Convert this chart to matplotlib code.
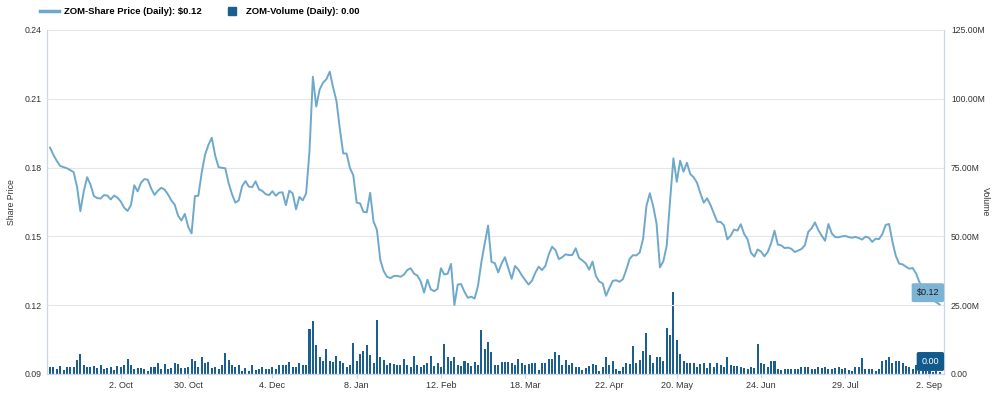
import matplotlib
matplotlib.use("Agg")
import matplotlib.pyplot as plt
from matplotlib.lines import Line2D
import numpy as np
import pandas as pd

plt.rcParams['font.family'] = ['Liberation Sans', 'DejaVu Sans']

# daily closes, ZOM
price = [
    .1887, .1855, .1829, .1807, .1802, .1797, .1789, .1780, .1717, .1610,
    .1696, .1758, .1726, .1676, .1667, .1665, .1680, .1678, .1661, .1678,
    .1669, .1652, .1625, .1611, .1636, .1723, .1696, .1734, .1750, .1747,
    .1709, .1681, .1699, .1712, .1704, .1683, .1657, .1638, .1590, .1569,
    .1598, .1542, .1513, .1676, .1677, .1777, .1856, .1899, .1930, .1853,
    .1802, .1799, .1797, .1732, .1684, .1647, .1657, .1719, .1741, .1717,
    .1715, .1740, .1705, .1698, .1684, .1680, .1697, .1677, .1691, .1692,
    .1636, .1699, .1688, .1618, .1672, .1657, .1687, .1873, .2196, .2066,
    .2140, .2170, .2185, .2218, .2150, .2090, .1969, .1862, .1861, .1798,
    .1766, .1647, .1644, .1607, .1605, .1690, .1565, .1529, .1398, .1349,
    .1324, .1318, .1327, .1328, .1324, .1333, .1353, .1361, .1338, .1329,
    .1304, .1255, .1311, .1269, .1261, .1271, .1361, .1334, .1337, .1380,
    .1201, .1290, .1292, .1258, .1232, .1237, .1229, .1284, .1387, .1469,
    .1547, .1389, .1383, .1343, .1382, .1409, .1361, .1315, .1371, .1355,
    .1330, .1310, .1290, .1306, .1341, .1368, .1353, .1371, .1421, .1455,
    .1440, .1401, .1409, .1422, .1418, .1419, .1448, .1406, .1395, .1382,
    .1355, .1390, .1327, .1303, .1295, .1241, .1275, .1306, .1309, .1302,
    .1313, .1354, .1402, .1418, .1417, .1430, .1489, .1633, .1688, .1632,
    .1555, .1365, .1391, .1458, .1654, .1840, .1738, .1830, .1782, .1821,
    .1772, .1758, .1734, .1688, .1647, .1666, .1637, .1600, .1564, .1563,
    .1548, .1487, .1503, .1530, .1525, .1553, .1510, .1488, .1429, .1412,
    .1443, .1434, .1413, .1432, .1470, .1525, .1464, .1461, .1449, .1451,
    .1446, .1432, .1438, .1445, .1461, .1519, .1535, .1561, .1528, .1503,
    .1481, .1554, .1513, .1497, .1496, .1500, .1502, .1497, .1494, .1498,
    .1493, .1486, .1499, .1494, .1476, .1490, .1488, .1510, .1550, .1554,
    .1477, .1415, .1381, .1378, .1368, .1359, .1362, .1339, .1301, .1270,
    .1250, .1234, .1224, .1213, .1203,
]

# daily volume, millions of shares
volume = [
    2.4, 2.4, 1.9, 3.0, 1.5, 2.4, 2.4, 2.4, 5.1, 7.3,
    3.1, 2.5, 2.4, 3.0, 2.2, 3.1, 1.7, 2.2, 2.7, 1.5,
    2.9, 2.4, 3.3, 5.3, 3.1, 1.7, 2.1, 2.1, 1.9, 1.2,
    2.4, 2.4, 3.9, 1.9, 3.6, 1.9, 2.1, 4.1, 3.6, 2.2,
    2.2, 2.4, 5.3, 4.8, 2.4, 6.1, 3.9, 4.4, 2.2, 2.4,
    1.7, 3.1, 7.5, 5.1, 3.4, 2.4, 3.4, 1.2, 2.1, 1.0,
    3.4, 1.5, 1.7, 2.4, 1.9, 1.9, 2.4, 1.7, 3.1, 3.4,
    3.1, 4.4, 2.4, 2.7, 3.9, 3.3, 3.1, 16.2, 19.1, 10.4,
    6.1, 4.6, 9.0, 4.8, 4.4, 6.5, 4.6, 3.9, 2.4, 3.1,
    11.1, 4.8, 7.3, 8.5, 10.4, 6.8, 4.1, 19.6, 6.1, 5.1,
    3.1, 4.1, 3.6, 3.1, 3.1, 5.3, 3.1, 2.7, 6.5, 3.1,
    2.7, 3.1, 3.9, 6.5, 2.9, 4.1, 2.4, 10.9, 6.3, 4.6,
    6.1, 3.1, 2.9, 4.8, 3.9, 2.9, 4.4, 3.1, 16.0, 9.2,
    11.7, 8.0, 3.4, 3.4, 4.4, 4.4, 4.2, 3.9, 3.3, 5.6,
    4.1, 3.4, 3.6, 3.9, 4.1, 1.5, 4.1, 4.1, 5.3, 5.3,
    8.0, 6.8, 3.1, 5.1, 3.1, 3.9, 2.4, 2.4, 1.5, 2.2,
    2.9, 3.6, 3.1, 1.2, 2.4, 6.3, 3.4, 4.8, 1.9, 1.0,
    2.4, 4.1, 3.6, 10.2, 3.9, 5.1, 8.5, 15.0, 7.0, 3.9,
    6.3, 6.3, 4.6, 16.7, 14.3, 29.8, 12.4, 7.3, 4.8, 3.9,
    4.1, 3.9, 2.4, 3.6, 3.9, 2.2, 4.1, 2.4, 3.9, 3.4,
    2.4, 6.3, 3.1, 2.9, 2.9, 2.4, 2.2, 1.7, 2.4, 2.2,
    10.9, 4.1, 3.6, 2.4, 4.6, 4.6, 1.9, 1.5, 1.9, 1.7,
    1.7, 1.9, 1.7, 2.4, 2.7, 2.7, 1.7, 1.9, 2.4, 2.2,
    2.4, 1.7, 1.9, 2.2, 2.4, 1.7, 2.2, 1.5, 1.2, 2.4,
    2.4, 5.8, 1.9, 1.9, 1.9, 1.2, 1.9, 4.6, 5.1, 6.3,
    3.9, 4.8, 4.6, 4.1, 2.9, 2.7, 1.9, 3.4, 1.2, 1.0,
    1.3, 1.1, 0.9, 1.0, 0.8,
]

tick_dates = ['2023-10-02', '2023-10-30', '2023-12-04', '2024-01-08', '2024-02-12',
              '2024-03-18', '2024-04-22', '2024-05-20', '2024-06-24', '2024-07-29',
              '2024-09-02']
tick_labels = ['2. Oct', '30. Oct', '4. Dec', '8. Jan', '12. Feb', '18. Mar',
               '22. Apr', '20. May', '24. Jun', '29. Jul', '2. Sep']

price_ticks = [0.09, 0.12, 0.15, 0.18, 0.21, 0.24]
vol_ticks = [0, 25, 50, 75, 100, 125]

dates = pd.bdate_range('2023-09-01', periods=len(price))
idx = np.arange(len(price))
tick_pos = [dates.get_loc(pd.Timestamp(d)) for d in tick_dates]

line_c = '#6ea9cc'
bar_c = '#1a5f8f'
txt_c = '#333333'
axis_c = '#ccd6eb'

fig = plt.figure(figsize=(9.92, 3.94), dpi=100)
ax = fig.add_axes([0.0474, 0.0508, 0.9042, 0.8731])
ax2 = ax.twinx()

ax2.bar(idx, np.array(volume) * 1e6, width=0.6, color=bar_c, zorder=2)
ax.plot(idx, price, color=line_c, lw=1.4, zorder=3, solid_joinstyle='round')

ax.set_zorder(ax2.get_zorder() + 1)
ax.patch.set_visible(False)

ax.set_xlim(-0.9, 265.3)
ax.set_ylim(0.09, 0.24)
ax2.set_ylim(0, 125e6)

ax.set_yticks(price_ticks)
ax.set_yticklabels(['%.2f' % v for v in price_ticks])
ax2.set_yticks([v * 1e6 for v in vol_ticks])
ax2.set_yticklabels(['0.00' if v == 0 else '%.2fM' % v for v in vol_ticks])

ax.set_xticks(tick_pos)
ax.set_xticklabels(tick_labels)

ax.grid(axis='y', color='#e6e6e6', lw=0.8)
ax.set_axisbelow(True)

for a in (ax, ax2):
    a.spines['top'].set_visible(False)
    for s in ('left', 'right', 'bottom'):
        a.spines[s].set_color(axis_c)
        a.spines[s].set_linewidth(0.8)

ax.tick_params(axis='y', length=0, labelsize=6.3, labelcolor=txt_c, pad=4)
ax2.tick_params(axis='y', length=0, labelsize=6.2, labelcolor=txt_c, pad=5)
ax.tick_params(axis='x', length=3, color=axis_c, labelsize=6.5, labelcolor=txt_c, pad=2)

ax.set_ylabel('Share Price', fontsize=6.3, color=txt_c, labelpad=6)
ax2.set_ylabel('Volume', fontsize=6.3, color=txt_c, rotation=270, labelpad=4)

# last value flags on the right edge
ax.annotate('$%.2f' % price[-1], xy=(1, price[-1]), xycoords=('axes fraction', 'data'),
            xytext=(-3.5, 8.5), textcoords='offset points', ha='right', va='center',
            fontsize=6.5, color='#1a1a1a', annotation_clip=False, zorder=5,
            bbox=dict(boxstyle='round,pad=0.55,rounding_size=0.2', fc='#7db3d4', ec='none'))
ax.annotate('0.00', xy=(1, 0.09), xycoords=('axes fraction', 'data'),
            xytext=(-3.5, 9), textcoords='offset points', ha='right', va='center',
            fontsize=6.5, color='white', annotation_clip=False, zorder=5,
            bbox=dict(boxstyle='round,pad=0.55,rounding_size=0.2', fc='#125a8c', ec='none'))

handles = [Line2D([0], [0], color=line_c, lw=2.5),
           Line2D([0], [0], marker='s', color='none', markerfacecolor=bar_c,
                  markeredgecolor=bar_c, markersize=6)]
labels = ['ZOM-Share Price (Daily): $%.2f' % price[-1], 'ZOM-Volume (Daily): 0.00']
fig.legend(handles, labels, loc='upper left', bbox_to_anchor=(0.032, 1.003), ncol=2,
           frameon=False, prop=dict(weight='bold', size=6.8), handlelength=2.0,
           columnspacing=2.2, handletextpad=0.5)

fig.savefig('out.png', dpi=100)
